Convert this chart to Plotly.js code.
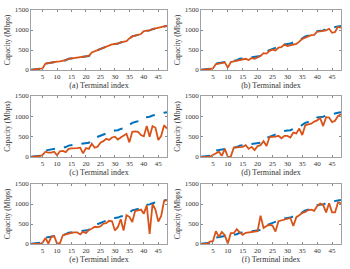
<!DOCTYPE html>
<html><head><meta charset="utf-8">
<script src="https://cdn.plot.ly/plotly-3.0.1.min.js"></script>
<style>html,body{margin:0;padding:0;background:#fff}#c{width:350px;height:269px}</style>
</head><body><div id="c"></div>
<script>
const terminals = Array.from({length: 48}, (_, i) => i + 1);
const upperBound = [5,10,15,25,40,160,175,185,200,210,215,230,245,280,290,295,305,310,320,330,350,440,470,500,530,560,580,600,640,650,660,690,700,720,790,840,860,880,900,970,980,990,1020,1040,1060,1080,1090,1100];
const capA = upperBound.slice();
const capB = [5,8,12,25,40,150,160,170,190,60,200,215,230,255,270,280,250,300,280,320,350,420,410,480,510,490,560,570,640,600,620,640,650,710,780,810,850,870,880,960,965,970,990,1030,930,950,1080,1060];
const capC = [5,8,12,20,50,130,110,110,130,40,140,150,120,200,210,210,220,230,90,220,200,330,230,250,350,390,450,420,480,500,430,480,530,570,360,620,630,620,540,510,760,500,760,720,420,520,780,700];
const capD = [5,5,5,10,50,100,130,30,200,5,10,230,240,240,250,290,200,250,170,270,290,390,270,490,490,500,520,460,520,520,480,600,580,700,540,780,800,820,870,900,960,760,980,970,860,890,1010,1050];
const capE = [5,5,5,5,30,150,10,180,200,10,20,220,240,270,280,290,290,240,310,270,350,380,430,420,440,510,520,580,570,340,420,620,340,720,680,550,830,840,860,760,970,250,1000,860,560,700,1080,1100];
const capF = [5,5,5,60,70,320,180,300,220,10,270,270,370,290,230,280,290,300,310,320,710,400,450,480,460,310,570,590,610,640,650,450,670,720,780,800,850,860,830,950,1010,980,790,1020,790,790,1040,1020];
const panelLabels = ["(a) Terminal index","(b) Terminal index","(c) Terminal index","(d) Terminal index","(e) Terminal index","(f) Terminal index"];
const series = [capA, capB, capC, capD, capE, capF];
const xTicks = [5,10,15,20,25,30,35,40,45];
const yTicks = [0,500,1000,1500];

const W = 350, H = 269;
const cols = [[31,167],[201,341]];
const rows = [[10,70],[96,157],[184,244]];

const traces = [];
const layout = {
  width: W, height: H, margin: {l:0,r:0,t:0,b:0},
  paper_bgcolor: '#fff', plot_bgcolor: '#fff', showlegend: false,
  font: {family: 'Liberation Serif, Times New Roman, serif', size: 7, color: '#333'}
};
for (let k = 0; k < 6; k++) {
  const r = Math.floor(k / 2), c = k % 2;
  const sx = k === 0 ? '' : String(k + 1);
  traces.push({x: terminals, y: upperBound, type: 'scatter', mode: 'lines',
    xaxis: 'x' + sx, yaxis: 'y' + sx,
    line: {color: '#0072BD', width: 2, dash: 'dash'}});
  traces.push({x: terminals, y: series[k], type: 'scatter', mode: 'lines',
    xaxis: 'x' + sx, yaxis: 'y' + sx,
    line: {color: '#D95319', width: 1.8}});
  const axCommon = {showline: true, mirror: 'ticks', linecolor: '#8a8a8a', linewidth: 0.8,
    ticks: 'inside', ticklen: 2, tickcolor: '#8a8a8a', showgrid: false, zeroline: false,
    tickfont: {size: 7, color: '#333'}};
  layout['xaxis' + sx] = Object.assign({}, axCommon, {
    domain: [cols[c][0] / W, cols[c][1] / W], anchor: 'y' + sx,
    range: [1, 48], tickvals: xTicks, ticktext: xTicks.map(String),
    title: {text: panelLabels[k], font: {size: 8, color: '#333'}, standoff: 2}
  });
  layout['yaxis' + sx] = Object.assign({}, axCommon, {
    domain: [1 - rows[r][1] / H, 1 - rows[r][0] / H], anchor: 'x' + sx,
    range: [0, 1500], tickvals: yTicks, ticktext: yTicks.map(String),
    title: {text: 'Capacity (Mbps)', font: {size: 7.5, color: '#333'}, standoff: 3}
  });
}
Plotly.newPlot('c', traces, layout, {staticPlot: true, displayModeBar: false});
</script></body></html>
